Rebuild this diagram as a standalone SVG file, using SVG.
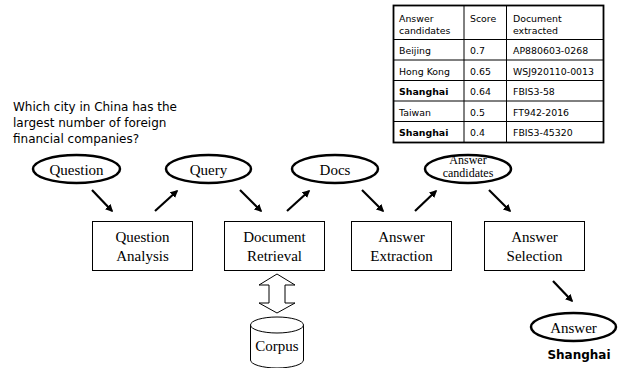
<svg xmlns="http://www.w3.org/2000/svg" width="618" height="368" viewBox="0 0 618 368">
<style>
.bg{fill:#ffffff}
.box{fill:#ffffff;stroke:#000;stroke-width:1}
.ell{fill:#ffffff;stroke:#000;stroke-width:2.5}
.t{font-family:"Liberation Serif","Times New Roman",serif;font-size:15px;fill:#000;text-anchor:middle}
.ts{font-family:"Liberation Serif","Times New Roman",serif;font-size:12px;fill:#000;text-anchor:middle}
.q{font-family:Tahoma,"DejaVu Sans",sans-serif;font-size:12px;fill:#000}
.tb{font-family:Tahoma,"DejaVu Sans",sans-serif;font-size:9.4px;fill:#000}
.b{font-weight:bold}
.conn{stroke:#000;stroke-width:2.2;fill:none;marker-end:url(#ah)}
.grid{stroke:#000;stroke-width:1;fill:none}
</style>
<defs>
<marker id="ah" viewBox="0 0 10 10" refX="8" refY="5" markerWidth="3.5" markerHeight="3.5" orient="auto" markerUnits="strokeWidth">
<path d="M0,0 L10,5 L0,10 z" fill="#000"/>
</marker>
</defs>
<rect class="bg" x="0" y="0" width="618" height="368"/>

<g id="table">
<rect x="393.5" y="5.5" width="210" height="137" fill="#fff" stroke="#000" stroke-width="1.8"/>
<path class="grid" d="M464,5.5V142.5 M506.5,5.5V142.5 M393.5,39.5H603.5 M393.5,60H603.5 M393.5,80.5H603.5 M393.5,101H603.5 M393.5,121.5H603.5"/>
<text class="tb" x="399" y="22">Answer</text>
<text class="tb" x="399" y="34">candidates</text>
<text class="tb" x="470" y="22">Score</text>
<text class="tb" x="513" y="22">Document</text>
<text class="tb" x="513" y="34">extracted</text>
<text class="tb" x="399" y="54">Beijing</text>
<text class="tb" x="470" y="54">0.7</text>
<text class="tb" x="513" y="54">AP880603-0268</text>
<text class="tb" x="399" y="74.5">Hong Kong</text>
<text class="tb" x="470" y="74.5">0.65</text>
<text class="tb" x="513" y="74.5">WSJ920110-0013</text>
<text class="tb b" x="399" y="95">Shanghai</text>
<text class="tb" x="470" y="95">0.64</text>
<text class="tb" x="513" y="95">FBIS3-58</text>
<text class="tb" x="399" y="115.5">Taiwan</text>
<text class="tb" x="470" y="115.5">0.5</text>
<text class="tb" x="513" y="115.5">FT942-2016</text>
<text class="tb b" x="399" y="136">Shanghai</text>
<text class="tb" x="470" y="136">0.4</text>
<text class="tb" x="513" y="136">FBIS3-45320</text>
</g>

<g id="question-text">
<text class="q" x="13" y="111">Which city in China has the</text>
<text class="q" x="13" y="127">largest number of foreign</text>
<text class="q" x="13" y="143">financial companies?</text>
</g>

<g id="connectors">
<line class="conn" x1="92" y1="190" x2="112" y2="211"/>
<line class="conn" x1="155" y1="211" x2="177" y2="191"/>
<line class="conn" x1="240" y1="190" x2="261" y2="211"/>
<line class="conn" x1="287" y1="211" x2="309" y2="191"/>
<line class="conn" x1="362" y1="190" x2="383" y2="211"/>
<line class="conn" x1="415" y1="211" x2="436" y2="191"/>
<line class="conn" x1="489" y1="190" x2="510" y2="211"/>
<line class="conn" x1="553" y1="281" x2="572" y2="301"/>
<path d="M277,274 L295,285 L285,285 L285,303 L295,303 L277,313 L259,303 L269,303 L269,285 L259,285 Z" fill="#fff" stroke="#000" stroke-width="1"/>
</g>

<g id="question">
<ellipse class="ell" cx="76.5" cy="169" rx="43.5" ry="14"/>
<text class="t" x="76.5" y="175">Question</text>
</g>
<g id="query">
<ellipse class="ell" cx="208.5" cy="169" rx="42.5" ry="14"/>
<text class="t" x="208.5" y="175">Query</text>
</g>
<g id="docs">
<ellipse class="ell" cx="335" cy="169" rx="43" ry="14"/>
<text class="t" x="335" y="175">Docs</text>
</g>
<g id="answer-candidates">
<ellipse class="ell" cx="468" cy="169" rx="43" ry="14"/>
<text class="ts" x="468" y="164">Answer</text>
<text class="ts" x="468" y="177">candidates</text>
</g>

<g id="question-analysis">
<rect class="box" x="92.5" y="221.5" width="100" height="49"/>
<text class="t" x="142.5" y="242">Question</text>
<text class="t" x="142.5" y="261">Analysis</text>
</g>
<g id="document-retrieval">
<rect class="box" x="224.5" y="221.5" width="100" height="49"/>
<text class="t" x="274.5" y="242">Document</text>
<text class="t" x="274.5" y="261">Retrieval</text>
</g>
<g id="answer-extraction">
<rect class="box" x="351.5" y="221.5" width="100" height="49"/>
<text class="t" x="401.5" y="242">Answer</text>
<text class="t" x="401.5" y="261">Extraction</text>
</g>
<g id="answer-selection">
<rect class="box" x="484.5" y="221.5" width="100" height="49"/>
<text class="t" x="534.5" y="242">Answer</text>
<text class="t" x="534.5" y="261">Selection</text>
</g>

<g id="corpus">
<path d="M250.5,325 L250.5,360 A26.5,8 0 0 0 303.5,360 L303.5,325" fill="#fff" stroke="#000" stroke-width="1"/>
<ellipse cx="277" cy="325" rx="26.5" ry="8" fill="#fff" stroke="#000" stroke-width="1"/>
<text class="t" x="277" y="351">Corpus</text>
</g>

<g id="answer">
<ellipse class="ell" cx="573.5" cy="327" rx="42.5" ry="14"/>
<text class="t" x="573.5" y="333">Answer</text>
</g>
<g id="answer-value">
<text class="q b" x="579" y="359" text-anchor="middle" font-size="13.5">Shanghai</text>
</g>
</svg>
